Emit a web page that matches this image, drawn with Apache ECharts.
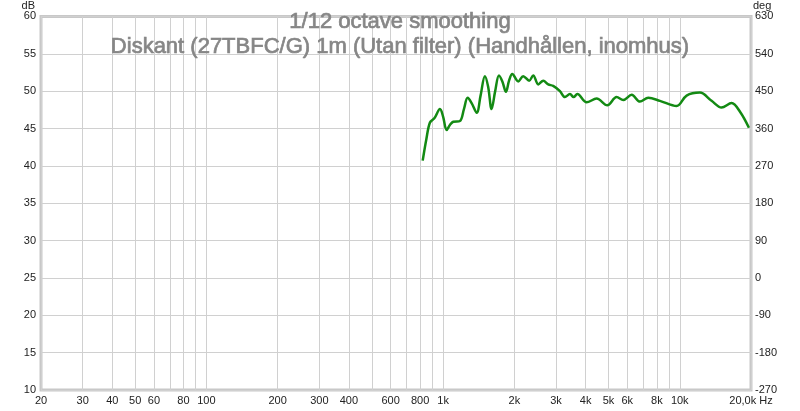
<!DOCTYPE html>
<html>
<head>
<meta charset="utf-8">
<script src="https://cdn.jsdelivr.net/npm/echarts@6/dist/echarts.min.js"></script>
<style>html,body{margin:0;padding:0;background:#fff}#c{width:800px;height:411px}</style>
</head>
<body>
<div id="c"></div>
<script>
// Frequency response (Hz, dB)
var freqHz = [820, 850, 880, 920, 970, 1000, 1035, 1070, 1104, 1178, 1225, 1270, 1320, 1387, 1440, 1502, 1550, 1603, 1660, 1722, 1780, 1843, 1900, 1960, 2078, 2180, 2311, 2404, 2525, 2650, 2781, 2918, 3117, 3272, 3436, 3560, 3690, 4040, 4454, 4941, 5411, 5771, 6264, 6790, 7363, 8247, 9700, 10690, 12160, 13630, 15020, 16560, 18000, 19600];
var splDb = [40.7, 43.6, 45.8, 46.4, 47.6, 46.6, 44.8, 45.5, 45.9, 46.0, 47.6, 49.1, 48.4, 47.1, 49.4, 52.0, 50.6, 47.6, 50.0, 52.1, 51.3, 49.9, 51.4, 52.3, 51.3, 52.0, 51.4, 52.1, 50.9, 51.4, 50.9, 50.7, 50.0, 49.2, 49.6, 49.2, 49.6, 48.5, 49.0, 48.1, 49.2, 48.8, 49.5, 48.6, 49.1, 48.7, 48.0, 49.4, 49.8, 48.7, 47.8, 48.4, 47.2, 45.1];
// Axis ticks
var gridFreqs = [20,30,40,50,60,70,80,90,100,200,300,400,500,600,700,800,900,1000,2000,3000,4000,5000,6000,7000,8000,9000,10000,20000];
var labelFreqs = [20,30,40,50,60,80,100,200,300,400,600,800,1000,2000,3000,4000,5000,6000,8000,10000,20000];
var labelTexts = ['20','30','40','50','60','80','100','200','300','400','600','800','1k','2k','3k','4k','5k','6k','8k','10k','20,0k Hz'];
var titleLines = ['1/12 octave smoothing', 'Diskant (27TBFC/G) 1m (Utan filter) (Handhållen, inomhus)'];

var lg = function (f) { return Math.log10(f); };
var data = freqHz.map(function (f, i) { return [lg(f), splDb[i]]; });
var labelMap = {};
labelFreqs.forEach(function (f, i) { labelMap[Math.round(f)] = labelTexts[i]; });

var font = 'Liberation Sans, Arial, sans-serif';
var titleStyle = { color: '#868686', fontSize: 22, fontWeight: 'normal', fontFamily: font, textBorderColor: '#868686', textBorderWidth: 0.7 };
var chart = echarts.init(document.getElementById('c'));
chart.setOption({
  animation: false,
  backgroundColor: '#ffffff',
  title: [
    { text: titleLines[0], left: 'center', top: 6, textStyle: titleStyle },
    { text: titleLines[1], left: 'center', top: 31, textStyle: titleStyle }
  ],
  grid: { left: 41, right: 49, top: 15, bottom: 21, show: true, borderColor: '#c8c8c8', borderWidth: 3, containLabel: false },
  xAxis: {
    type: 'value', min: lg(20), max: lg(20000),
    axisLine: { show: false },
    axisTick: { show: false, customValues: gridFreqs.map(lg) },
    splitLine: { show: true, lineStyle: { color: '#d0d0d0', width: 1 } },
    axisLabel: {
      customValues: labelFreqs.map(lg), color: '#222', fontSize: 11, fontFamily: font, margin: 5,
      formatter: function (v) { return labelMap[Math.round(Math.pow(10, v))] || ''; }
    }
  },
  yAxis: [
    {
      type: 'value', min: 10, max: 60, interval: 5, name: 'dB', nameLocation: 'end', nameGap: 4,
      nameTextStyle: { color: '#222', fontSize: 11, fontFamily: font, align: 'right', padding: [0, 6, 0, 0] },
      axisLine: { show: false }, axisTick: { show: false },
      splitLine: { show: true, lineStyle: { color: '#d0d0d0', width: 1 } },
      axisLabel: { color: '#222', fontSize: 11, fontFamily: font, margin: 5 }
    },
    {
      type: 'value', min: -270, max: 630, interval: 90, name: 'deg', nameLocation: 'end', nameGap: 4,
      nameTextStyle: { color: '#222', fontSize: 11, fontFamily: font, align: 'left', padding: [0, 0, 0, 2] },
      axisLine: { show: false }, axisTick: { show: false }, splitLine: { show: false },
      axisLabel: { color: '#222', fontSize: 11, fontFamily: font, margin: 4 }
    }
  ],
  series: [{
    type: 'line', data: data, smooth: 0.35, showSymbol: false, symbol: 'none',
    lineStyle: { color: '#138a13', width: 2.5 }, yAxisIndex: 0
  }]
});
</script>
</body>
</html>
